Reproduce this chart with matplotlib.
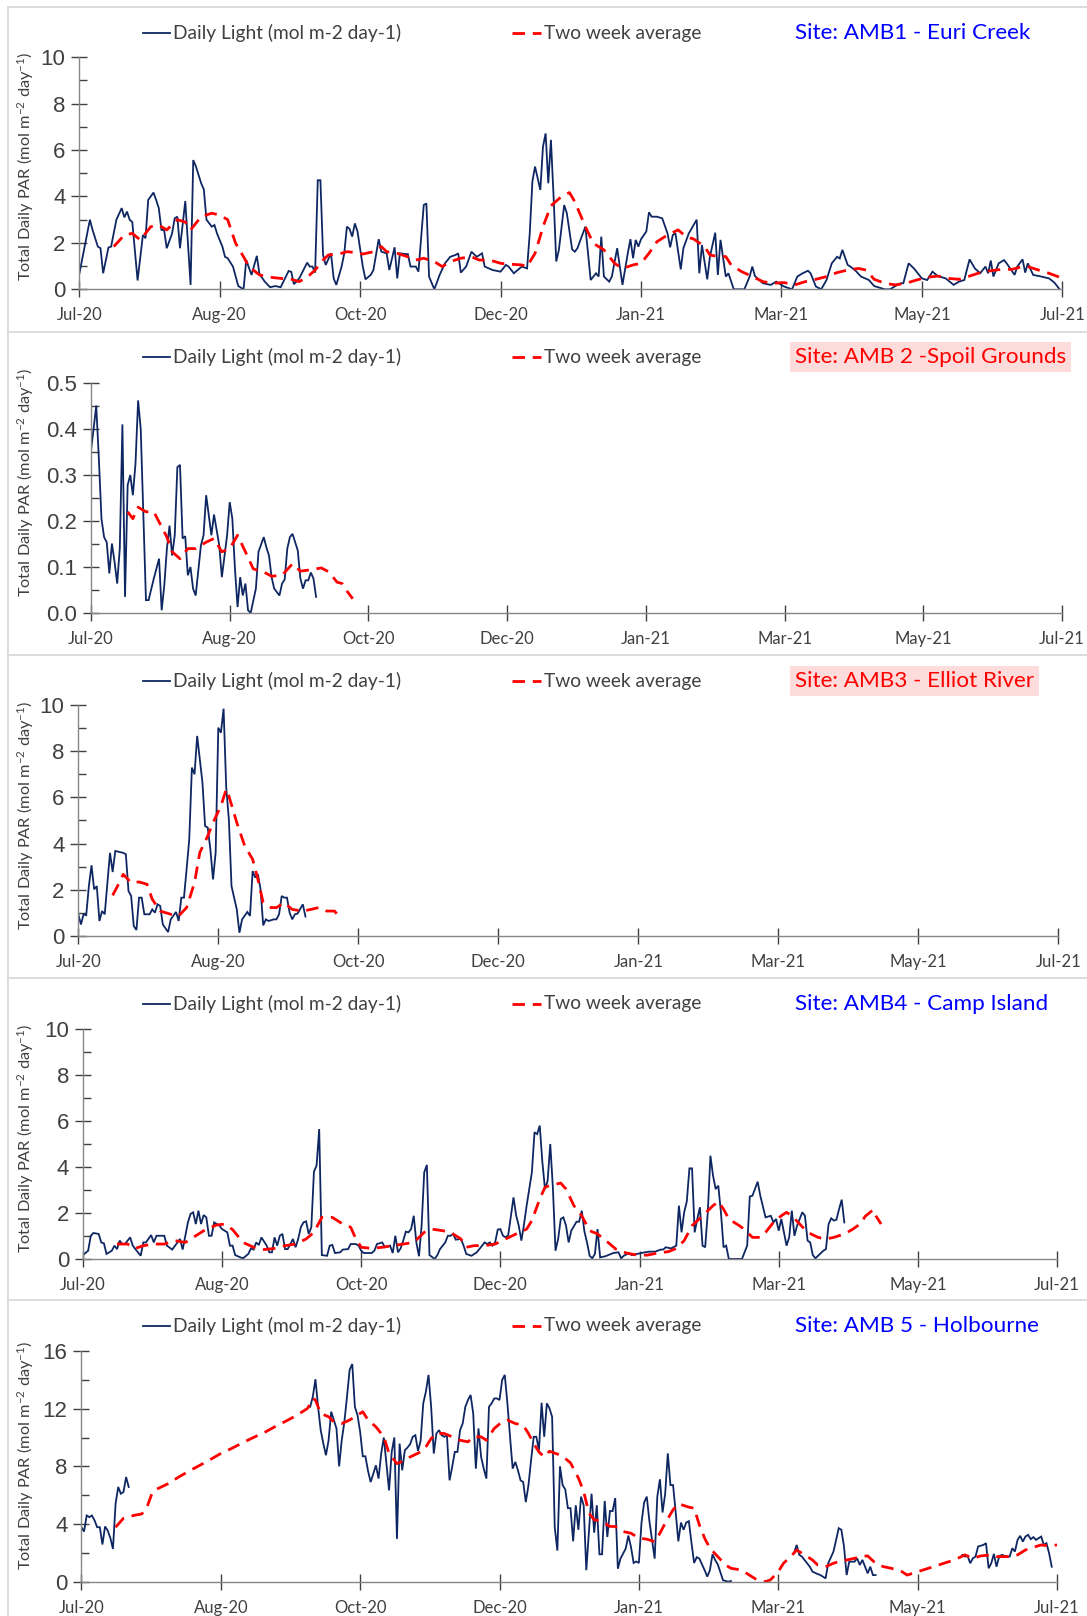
"""
Daily light (PAR) at the five AMB monitoring sites, Jul 2020 - Jul 2021.
"""
# general imports
import numpy as np
import matplotlib
matplotlib.use('Agg')
import matplotlib.pyplot as plt
import matplotlib.dates as mdates
from matplotlib.lines import Line2D
from matplotlib.ticker import MultipleLocator

nan = float('nan')

# All series are (day offset from 1 Jul 2020, value)
START = np.datetime64('2020-07-01')
TICK_STEP = 53  # days between the date labels on the x axis
N_TICKS = 8

# --- AMB1 - Euri Creek -------------------------------------------------------
amb1_light = [
    (0, 0.66), (4, 3.0), (5, 2.56), (7, 1.84), (8, 1.77), (9, 0.69), (11, 1.8),
    (12, 1.84), (14, 3.0), (16, 3.5), (17, 3.1), (18, 3.35), (19, 3.0), (20, 2.9),
    (22, 0.38), (24, 2.34), (25, 2.2), (26, 3.85), (28, 4.17), (29, 3.85), (30, 3.5),
    (31, 2.56), (32, 2.56), (33, 1.77), (35, 2.4), (36, 3.06), (37, 3.13), (38, 1.77),
    (40, 3.8), (42, 0.19), (43, 5.57), (44, 5.3), (46, 4.57), (47, 4.3), (48, 3.0),
    (50, 2.7), (51, 2.77), (52, 2.4), (54, 1.84), (55, 1.4), (56, 1.34), (58, 0.98),
    (60, 0.14), (62, 0.0), (63, 1.26), (65, 0.62), (67, 1.44), (68, 0.66), (70, 0.33),
    (72, 0.09), (74, 0.14), (76, 0.09), (79, 0.79), (80, 0.75), (81, 0.22), (83, 0.47),
    (86, 1.15), (87, 0.98), (88, 0.98), (89, 0.72), (90, 4.7), (91, 4.7), (92, 1.48),
    (93, 1.05), (95, 1.55), (96, 0.47), (97, 0.19), (99, 0.98), (100, 1.55), (101, 2.7),
    (102, 2.6), (103, 2.27), (104, 2.84), (105, 2.49), (107, 0.98), (108, 0.43),
    (110, 0.62), (111, 0.83), (113, 2.16), (114, 1.62), (116, 1.55), (117, 0.83),
    (119, 1.81), (120, 0.47), (121, 1.55), (123, 1.52), (124, 1.52), (125, 0.98),
    (127, 0.98), (128, 0.76), (130, 3.63), (131, 3.7), (132, 0.55), (134, 0.0),
    (136, 0.62), (138, 1.12), (140, 1.4), (142, 1.48), (143, 1.55), (144, 0.72),
    (146, 0.98), (148, 1.62), (150, 1.4), (152, 1.55), (153, 0.98), (156, 0.83),
    (159, 0.76), (161, 1.05), (162, 0.98), (164, 0.69), (167, 0.98), (169, 0.9),
    (170, 2.4), (171, 4.64), (172, 5.29), (174, 4.28), (175, 6.15), (176, 6.72),
    (177, 4.57), (178, 6.44), (179, 4.0), (180, 1.2), (181, 1.7), (183, 3.63),
    (184, 3.28), (186, 1.72), (187, 1.62), (188, 1.77), (191, 2.7), (193, 0.4),
    (195, 0.69), (196, 0.55), (197, 2.27), (198, 0.55), (200, 0.33), (201, 0.55),
    (203, 1.77), (205, 0.19), (207, 1.55), (208, 2.16), (209, 1.34), (210, 2.13),
    (211, 1.84), (212, 2.16), (214, 2.49), (215, 3.32), (216, 3.13), (218, 3.13),
    (220, 3.06), (222, 2.41), (223, 1.81), (224, 2.34), (225, 2.41), (227, 0.86),
    (228, 1.77), (230, 2.4), (233, 3.0), (234, 0.69), (235, 1.91), (237, 0.43),
    (238, 1.4), (240, 2.44), (241, 0.62), (242, 2.13), (244, 0.55), (245, 0.69),
    (247, 0.0), (251, 0.0), (253, 0.55), (254, 0.98), (255, 0.57), (258, 0.26),
    (261, 0.19), (263, 0.33), (266, 0.12), (269, 0.0), (271, 0.55), (273, 0.69),
    (275, 0.8), (276, 0.69), (278, 0.12), (280, 0.0), (282, 0.4), (284, 1.12),
    (286, 1.4), (287, 1.33), (288, 1.7), (290, 1.05), (291, 0.98), (293, 0.8),
    (295, 0.55), (298, 0.4), (300, 0.14), (304, 0.0), (306, 0.0), (308, 0.14),
    (310, 0.26), (311, 0.26), (313, 1.12), (315, 0.9), (318, 0.47), (320, 0.4),
    (322, 0.76), (324, 0.57), (327, 0.47), (330, 0.19), (332, 0.33), (334, 0.4),
    (336, 1.29), (338, 0.9), (340, 0.69), (342, 0.98), (343, 0.69), (344, 1.24),
    (345, 0.55), (347, 1.12), (349, 1.26), (350, 1.12), (353, 0.62), (354, 0.98),
    (356, 1.29), (357, 0.72), (358, 1.12), (360, 0.62), (363, 0.55), (366, 0.47),
    (368, 0.29), (370, 0.0),
]
amb1_avg = [
    (13, 1.84), (17, 2.34), (20, 2.41), (23, 2.13), (27, 2.7), (30, 2.77), (33, 2.56),
    (37, 3.0), (40, 2.9), (42, 2.56), (46, 3.13), (50, 3.28), (53, 3.2), (56, 3.0),
    (59, 1.98), (62, 1.4), (64, 0.98), (68, 0.62), (72, 0.52), (76, 0.47), (80, 0.43),
    (83, 0.33), (86, 0.52), (89, 0.83), (92, 1.26), (94, 1.48), (98, 1.52), (101, 1.62),
    (105, 1.58), (107, 1.52), (111, 1.62), (114, 1.84), (116, 1.62), (120, 1.55),
    (124, 1.4), (127, 1.26), (130, 1.34), (134, 1.19), (137, 0.98), (140, 1.19),
    (144, 1.34), (148, 1.4), (151, 1.26), (155, 1.26), (159, 1.12), (163, 1.08),
    (167, 1.05), (169, 0.98), (172, 1.55), (174, 2.3), (175, 2.7), (178, 3.6),
    (182, 4.0), (185, 4.17), (187, 3.78), (191, 2.7), (194, 1.98), (198, 1.7),
    (202, 1.12), (205, 0.9), (209, 1.05), (212, 1.12), (215, 1.55), (218, 2.05),
    (222, 2.34), (226, 2.56), (229, 2.27), (232, 2.16), (236, 1.84), (238, 1.48),
    (241, 1.41), (244, 1.41), (246, 1.05), (250, 0.76), (254, 0.55), (258, 0.33),
    (262, 0.26), (266, 0.29), (270, 0.19), (274, 0.33), (278, 0.43), (282, 0.55),
    (286, 0.72), (290, 0.83), (294, 0.9), (297, 0.83), (300, 0.43), (304, 0.26),
    (308, 0.19), (312, 0.26), (316, 0.4), (320, 0.52), (324, 0.57), (328, 0.47),
    (332, 0.43), (336, 0.57), (340, 0.72), (344, 0.8), (348, 0.86), (352, 0.86),
    (356, 0.98), (358, 0.98), (362, 0.83), (366, 0.69), (370, 0.52),
]

# --- AMB 2 - Spoil Grounds ---------------------------------------------------
amb2_light = [
    (0, 0.354), (1, 0.40), (2, 0.451), (3, 0.336), (4, 0.205), (5, 0.165), (6, 0.154),
    (7, 0.086), (8, 0.151), (9, 0.111), (10, 0.064), (11, 0.14), (12, 0.41), (13, 0.035),
    (14, 0.278), (15, 0.30), (16, 0.256), (17, 0.325), (18, 0.462), (19, 0.40),
    (21, 0.028), (22, 0.028), (24, 0.075), (26, 0.118), (27, 0.006), (28, 0.06),
    (29, 0.14), (30, 0.19), (31, 0.125), (32, 0.169), (33, 0.317), (34, 0.322),
    (35, 0.162), (36, 0.167), (37, 0.082), (38, 0.1), (39, 0.053), (40, 0.038),
    (42, 0.147), (43, 0.169), (44, 0.256), (46, 0.169), (47, 0.214), (49, 0.147),
    (50, 0.078), (52, 0.169), (53, 0.241), (54, 0.205), (55, 0.096), (56, 0.013),
    (57, 0.078), (58, 0.038), (59, 0.064), (60, 0.006), (61, 0.0), (63, 0.053),
    (64, 0.133), (66, 0.165), (67, 0.143), (68, 0.125), (69, 0.078), (70, 0.053),
    (72, 0.038), (73, 0.064), (74, 0.073), (75, 0.14), (76, 0.165), (77, 0.172),
    (79, 0.136), (80, 0.075), (81, 0.053), (82, 0.071), (83, 0.071), (84, 0.088),
    (85, 0.075), (86, 0.035),
]
amb2_avg = [
    (14, 0.22), (16, 0.205), (18, 0.23), (21, 0.22), (24, 0.22), (26, 0.198),
    (29, 0.165), (31, 0.133), (34, 0.118), (37, 0.14), (40, 0.14), (44, 0.154),
    (47, 0.162), (50, 0.133), (53, 0.14), (56, 0.169), (59, 0.133), (62, 0.096),
    (66, 0.089), (69, 0.08), (73, 0.082), (77, 0.107), (80, 0.091), (84, 0.094),
    (88, 0.098), (91, 0.089), (94, 0.067), (96, 0.064), (98, 0.046), (100, 0.031),
]

# --- AMB3 - Elliot River -----------------------------------------------------
amb3_light = [
    (0, 0.94), (1, 0.5), (2, 0.94), (3, 0.9), (4, 2.16), (5, 3.06), (6, 2.02), (7, 2.16),
    (8, 0.65), (9, 1.08), (10, 0.94), (12, 3.6), (13, 2.77), (14, 3.68), (17, 3.6),
    (18, 3.54), (19, 1.95), (20, 1.73), (21, 0.43), (22, 0.26), (23, 1.66), (24, 1.66),
    (25, 0.94), (27, 0.94), (28, 1.15), (29, 1.01), (30, 1.37), (31, 1.3), (32, 0.5),
    (34, 0.17), (35, 0.72), (37, 1.04), (38, 0.65), (39, 1.66), (40, 1.66), (41, 2.89),
    (42, 4.18), (43, 7.29), (44, 7.0), (45, 8.66), (46, 7.65), (47, 6.64), (48, 4.76),
    (49, 4.69), (50, 3.75), (51, 2.45), (52, 3.61), (53, 9.02), (54, 8.8), (55, 9.84),
    (56, 6.42), (57, 5.05), (58, 2.16), (60, 1.15), (61, 0.14), (62, 0.72), (64, 1.04),
    (65, 0.87), (66, 2.81), (67, 2.53), (68, 2.67), (69, 2.02), (70, 0.46), (71, 0.72),
    (72, 0.65), (74, 0.72), (75, 0.72), (76, 0.94), (77, 1.73), (78, 1.66), (79, 1.66),
    (80, 1.01), (81, 0.72), (82, 0.94), (83, 0.97), (85, 1.37), (86, 0.84),
]
amb3_avg = [
    (13, 1.76), (15, 2.19), (17, 2.67), (20, 2.31), (23, 2.34), (26, 2.24), (28, 1.59),
    (31, 1.08), (35, 0.94), (38, 0.87), (41, 1.23), (44, 2.31), (46, 3.61), (49, 4.33),
    (51, 4.91), (54, 5.63), (56, 6.35), (57, 6.06), (60, 4.91), (63, 3.9), (66, 3.32),
    (68, 2.45), (70, 1.44), (73, 1.23), (75, 1.23), (78, 1.44), (81, 1.15), (85, 1.08),
    (88, 1.15), (91, 1.23), (94, 1.08), (97, 1.08), (99, 0.79),
]

# --- AMB4 - Camp Island ------------------------------------------------------
amb4_light = [
    (0, 0.17), (2, 0.36), (3, 1.01), (4, 1.13), (6, 1.09), (7, 0.72), (8, 0.68),
    (9, 0.22), (11, 0.36), (12, 0.58), (13, 0.43), (14, 0.8), (15, 0.65), (16, 0.65),
    (18, 0.94), (19, 0.58), (20, 0.43), (22, 0.14), (23, 0.72), (24, 0.72), (26, 1.04),
    (27, 0.72), (28, 1.01), (31, 1.01), (32, 0.58), (34, 0.41), (36, 0.72), (37, 0.87),
    (38, 0.41), (39, 1.01), (40, 1.59), (41, 1.96), (42, 2.03), (43, 1.52), (44, 2.1),
    (45, 1.52), (46, 1.91), (47, 1.81), (48, 1.01), (49, 1.01), (50, 1.59), (52, 1.45),
    (53, 1.3), (55, 1.16), (56, 0.58), (57, 0.58), (58, 0.17), (60, 0.07), (61, 0.03),
    (63, 0.22), (64, 0.46), (65, 0.41), (66, 0.72), (67, 0.61), (68, 0.94), (70, 0.58),
    (71, 0.29), (72, 0.29), (73, 0.94), (74, 0.58), (75, 1.01), (76, 1.09), (77, 0.43),
    (78, 0.43), (80, 0.87), (81, 0.51), (82, 0.87), (83, 1.38), (84, 1.59), (85, 1.64),
    (86, 1.09), (87, 1.38), (88, 3.8), (89, 4.06), (90, 5.65), (91, 0.17), (93, 0.14),
    (94, 0.58), (95, 0.61), (96, 0.26), (98, 0.29), (99, 0.41), (101, 0.43), (102, 0.65),
    (104, 0.65), (105, 0.58), (106, 0.36), (107, 0.26), (110, 0.26), (111, 0.36),
    (112, 0.65), (114, 0.72), (115, 0.51), (117, 0.58), (118, 0.26), (119, 1.01),
    (120, 0.29), (121, 0.46), (122, 0.8), (123, 1.19), (124, 1.16), (125, 1.3),
    (126, 1.88), (127, 0.72), (128, 0.12), (129, 1.45), (130, 3.77), (131, 4.09),
    (132, 0.17), (134, 0.0), (135, 0.17), (136, 0.43), (138, 0.72), (139, 1.01),
    (140, 1.01), (141, 1.09), (142, 0.84), (144, 0.87), (145, 0.58), (146, 0.22),
    (148, 0.14), (150, 0.29), (151, 0.43), (153, 0.72), (154, 0.65), (155, 0.72),
    (156, 0.58), (157, 0.72), (158, 1.28), (159, 1.3), (160, 1.01), (161, 0.94),
    (162, 1.04), (164, 2.68), (165, 1.9), (166, 1.45), (167, 0.8), (168, 1.5),
    (169, 2.32), (171, 3.77), (172, 5.51), (173, 5.43), (174, 5.8), (175, 4.2),
    (176, 3.04), (177, 3.4), (178, 5.0), (179, 3.1), (180, 0.36), (181, 0.87),
    (182, 1.74), (183, 1.81), (184, 1.45), (185, 0.72), (186, 1.23), (188, 1.62),
    (189, 1.62), (190, 2.1), (191, 1.2), (192, 0.72), (193, 0.14), (194, 0.03),
    (195, 0.22), (196, 1.3), (197, 0.07), (199, 0.12), (202, 0.26), (204, 0.29),
    (205, 0.03), (206, 0.14), (208, 0.26), (209, 0.17), (211, 0.22), (214, 0.29),
    (216, 0.32), (218, 0.32), (220, 0.41), (221, 0.41), (222, 0.51), (224, 0.46),
    (226, 0.58), (227, 2.32), (228, 1.16), (229, 2.03), (230, 2.5), (231, 3.94),
    (232, 3.94), (233, 1.16), (234, 1.74), (235, 2.25), (236, 0.58), (237, 0.51),
    (238, 2.03), (239, 4.49), (240, 3.62), (241, 3.04), (242, 3.19), (243, 2.03),
    (244, 0.51), (245, 0.58), (246, 0.0), (251, 0.0), (253, 0.58), (254, 2.72),
    (255, 2.75), (257, 3.36), (258, 2.75), (260, 1.81), (262, 1.88), (263, 1.59),
    (264, 1.74), (265, 1.23), (266, 1.74), (268, 0.58), (269, 0.94), (270, 2.1),
    (271, 1.01), (272, 1.45), (273, 1.74), (274, 2.03), (275, 1.88), (276, 0.8),
    (277, 0.72), (278, 0.17), (279, 0.03), (280, 0.14), (282, 0.36), (283, 0.43),
    (284, 1.52), (285, 1.77), (286, 1.67), (287, 1.71), (288, 2.17), (289, 2.58),
    (290, 1.59),
]
amb4_avg = [
    (13, 0.65), (17, 0.65), (20, 0.46), (23, 0.58), (27, 0.65), (31, 0.65), (35, 0.8),
    (39, 0.72), (43, 1.01), (47, 1.3), (51, 1.48), (54, 1.52), (57, 1.28), (61, 0.72),
    (65, 0.51), (69, 0.41), (73, 0.46), (77, 0.58), (81, 0.65), (85, 0.87), (88, 1.16),
    (91, 1.81), (95, 1.81), (98, 1.59), (102, 1.38), (104, 0.87), (106, 0.51),
    (110, 0.46), (114, 0.51), (118, 0.58), (122, 0.65), (126, 0.72), (130, 1.16),
    (133, 1.3), (137, 1.23), (140, 1.16), (144, 0.87), (146, 0.51), (149, 0.58),
    (153, 0.58), (157, 0.65), (161, 0.87), (165, 1.09), (169, 1.3), (171, 1.67),
    (174, 2.61), (176, 3.12), (178, 3.2), (182, 3.3), (184, 3.04), (187, 2.32),
    (190, 1.88), (193, 1.23), (196, 1.09), (200, 0.72), (203, 0.43), (207, 0.26),
    (211, 0.17), (215, 0.17), (219, 0.26), (223, 0.32), (226, 0.46), (229, 0.8),
    (232, 1.45), (235, 1.77), (238, 2.1), (240, 2.32), (242, 2.49), (244, 2.17),
    (246, 1.74), (250, 1.45), (252, 1.28), (255, 0.94), (258, 0.94), (260, 1.16),
    (263, 1.59), (266, 1.88), (268, 2.03), (270, 1.88), (273, 1.52), (276, 1.16),
    (280, 0.94), (283, 0.87), (286, 0.94), (290, 1.09), (293, 1.28), (296, 1.52),
    (298, 1.86), (301, 2.14), (302, 1.88), (304, 1.52),
]

# --- AMB 5 - Holbourne (logger gaps are NaN) ---------------------------------
amb5_light = [
    (0, 3.78), (1, 3.48), (2, 4.59), (3, 4.48), (4, 4.59), (5, 4.25), (6, 3.78),
    (7, 3.78), (8, 2.58), (9, 3.83), (10, 3.55), (11, 3.04), (12, 2.27), (13, 5.41),
    (14, 6.57), (15, 6.1), (16, 6.22), (17, 7.26), (18, 6.57),
    (50, nan),
    (87, 12.13), (88, 12.83), (89, 14.04), (90, 12.13), (91, 10.51), (92, 9.58),
    (93, 8.77), (94, 9.81), (95, 11.79), (96, 11.21), (97, 10.63), (98, 8.0),
    (99, 9.81), (100, 11.09), (101, 12.83), (102, 14.69), (103, 15.1), (104, 12.13),
    (105, 11.55), (106, 10.39), (107, 8.7), (108, 8.7), (109, 7.68), (110, 6.91),
    (111, 7.49), (112, 8.07), (113, 7.15), (114, 8.89), (115, 10.0), (116, 8.19),
    (117, 6.33), (118, 9.0), (119, 10.0), (120, 2.97), (121, 9.58), (122, 7.73),
    (123, 9.12), (124, 9.3), (125, 9.54), (126, 10.05), (127, 10.16), (128, 9.07),
    (129, 9.77), (130, 12.37), (131, 13.18), (132, 14.34), (133, 12.13), (134, 8.89),
    (135, 10.28), (136, 10.51), (137, 10.16), (138, 10.05), (139, 10.16), (140, 7.03),
    (141, 7.96), (142, 9.0), (143, 9.0), (144, 10.51), (145, 10.97), (146, 12.13),
    (147, 12.6), (148, 12.95), (149, 11.67), (150, 7.84), (151, 10.63), (152, 8.65),
    (153, 7.84), (154, 7.15), (155, 12.13), (156, 12.37), (157, 12.71), (158, 12.71),
    (159, 12.6), (160, 13.99), (161, 14.34), (162, 12.37), (163, 10.05), (164, 7.84),
    (165, 8.31), (166, 7.73), (167, 7.03), (168, 6.91), (169, 5.52), (170, 6.68),
    (171, 8.42), (172, 10.05), (173, 10.05), (174, 9.12), (175, 12.41), (176, 10.05),
    (177, 12.37), (178, 12.02), (179, 11.44), (180, 3.78), (181, 2.16), (182, 8.0),
    (183, 6.7), (184, 6.4), (185, 5.1), (186, 5.1), (187, 2.8), (188, 5.3), (189, 3.6),
    (190, 5.9), (191, 5.3), (192, 0.8), (193, 3.4), (194, 6.1), (195, 3.4), (196, 5.3),
    (197, 1.9), (198, 1.9), (199, 5.6), (200, 3.1), (201, 4.9), (202, 4.9), (203, 5.8),
    (204, 0.9), (205, 1.6), (207, 2.3), (208, 3.2), (209, 2.4), (210, 1.3), (211, 1.4),
    (212, 1.3), (213, 4.1), (214, 5.5), (215, 5.9), (216, 4.2), (217, 2.9), (218, 1.6),
    (219, 5.9), (220, 7.1), (221, 4.8), (222, 6.1), (223, 8.9), (224, 6.7), (225, 6.7),
    (226, 4.8), (227, 2.8), (228, 4.1), (229, 3.6), (230, 4.1), (231, 4.2), (232, 2.7),
    (233, 1.3), (234, 1.7), (235, 1.6), (237, 0.8), (238, 0.35), (239, 0.8), (240, 1.9),
    (241, 1.5), (242, 1.2), (244, 0.1), (246, 0.0), (247, 0.05),
    (255, nan),
    (271, 2.0), (272, 2.55), (273, 1.86), (274, 1.74), (276, 1.28), (277, 1.04),
    (278, 0.7), (280, 0.53), (281, 0.46), (282, 0.35), (283, 0.23), (284, 1.28),
    (286, 2.09), (287, 2.9), (288, 3.71), (289, 3.6), (290, 2.44), (291, 0.46),
    (292, 1.39), (293, 1.39), (294, 1.39), (295, 1.62), (296, 1.16), (297, 1.51),
    (298, 1.04), (299, 0.58), (300, 1.04), (301, 0.46), (302, 0.46),
    (320, nan),
    (335, 1.86), (336, 1.74), (337, 1.79), (338, 1.28), (339, 1.62), (340, 1.74),
    (341, 2.44), (343, 2.55), (344, 2.67), (345, 0.93), (346, 1.28), (347, 1.93),
    (348, 1.04), (349, 1.74), (350, 1.86), (352, 1.74), (353, 1.74), (354, 2.32),
    (355, 2.09), (356, 2.9), (357, 3.18), (358, 2.78), (359, 3.13), (360, 3.25),
    (361, 2.95), (362, 3.09), (363, 2.9), (364, 3.02), (365, 3.13), (366, 2.55),
    (367, 2.67), (368, 1.97), (369, 1.04),
]
amb5_avg = [
    (13, 3.78), (16, 4.4), (20, 4.6), (23, 4.7), (25, 5.2), (27, 6.2), (29, 6.45),
    (33, 6.8), (37, 7.26), (41, 7.68), (45, 8.07), (49, 8.47), (53, 8.89), (57, 9.23),
    (62, 9.7), (66, 10.05), (70, 10.39), (74, 10.79), (78, 11.16), (82, 11.55),
    (86, 12.02), (88, 12.71), (89, 12.6), (91, 11.67), (94, 11.44), (96, 11.09),
    (99, 10.97), (102, 11.21), (105, 11.55), (107, 11.79), (109, 11.21), (112, 10.74),
    (115, 10.05), (117, 8.89), (120, 8.19), (123, 8.42), (125, 8.65), (129, 9.0),
    (131, 9.35), (133, 9.93), (135, 10.28), (138, 10.28), (141, 10.05), (144, 9.81),
    (147, 9.7), (149, 10.05), (152, 10.05), (154, 9.81), (157, 10.63), (160, 11.09),
    (162, 11.21), (165, 10.97), (168, 10.86), (170, 10.28), (172, 9.58), (174, 9.0),
    (176, 8.65), (178, 9.05), (181, 8.85), (183, 8.7), (186, 8.24), (189, 7.19),
    (191, 6.26), (193, 4.76), (195, 4.29), (198, 4.18), (201, 3.83), (203, 3.83),
    (206, 3.48), (209, 3.36), (212, 3.02), (215, 2.95), (218, 2.78), (220, 3.36),
    (222, 4.06), (225, 4.99), (227, 5.41), (231, 5.17), (233, 5.1), (235, 3.94),
    (237, 3.02), (239, 2.32), (242, 1.74), (245, 1.16), (247, 0.93), (251, 0.81),
    (254, 0.46), (257, 0.12), (260, 0.0), (262, 0.12), (265, 0.7), (267, 1.28),
    (270, 1.79), (272, 2.2), (275, 1.86), (278, 1.51), (280, 1.16), (283, 1.04),
    (286, 1.28), (288, 1.39), (291, 1.51), (294, 1.62), (296, 1.74), (299, 1.79),
    (302, 1.28), (305, 1.04), (308, 0.93), (312, 0.7), (314, 0.46), (317, 0.63),
    (320, 0.81), (324, 1.04), (328, 1.28), (332, 1.51), (336, 1.86), (339, 1.62),
    (342, 1.79), (346, 1.86), (348, 1.74), (352, 1.74), (356, 1.86), (359, 2.2),
    (363, 2.44), (365, 2.55), (368, 2.48), (371, 2.55),
]

site_names = ['Site: AMB1 - Euri Creek', 'Site: AMB 2 -Spoil Grounds',
              'Site: AMB3 - Elliot River', 'Site: AMB4 - Camp Island',
              'Site: AMB 5 - Holbourne']
site_light = [amb1_light, amb2_light, amb3_light, amb4_light, amb5_light]
site_avg = [amb1_avg, amb2_avg, amb3_avg, amb4_avg, amb5_avg]
y_max = [10, 0.5, 10, 10, 16]
y_step = [2, 0.1, 2, 2, 4]
y_fmt = ['{:.0f}', '{:.1f}', '{:.0f}', '{:.0f}', '{:.0f}']

# Styling
W, H = 1087, 1616
NAVY = '#0e2762'
RED = '#ff0000'
AXIS_GREY = '#868686'
TEXT_GREY = '#404040'
BORDER = '#d9d9d9'
SANS = ['Lato', 'DejaVu Sans']
NUM = ['Liberation Sans', 'DejaVu Sans']

plt.rcParams['font.family'] = SANS
plt.rcParams['mathtext.fontset'] = 'custom'
plt.rcParams['mathtext.rm'] = 'Lato'
plt.rcParams['mathtext.it'] = 'Lato:italic'

# Per panel layout, in pixels: axis left/right, y of zero and of the top value,
# panel top edge, legend row, site label colour / highlight, y-label centre
panels = [
    dict(left=79.3, right=1062.3, y0=289.3, ytop=57.3, top=7, legend=33.3,
         color='#0000ff', box=None, ylab=166.5),
    dict(left=91.0, right=1062.0, y0=613.0, ytop=383.0, top=332, legend=357.0,
         color=RED, box='#ffdcdc', ylab=482.5),
    dict(left=78.3, right=1058.3, y0=936.0, ytop=705.0, top=655, legend=681.0,
         color=RED, box='#ffdcdc', ylab=815.0),
    dict(left=82.9, right=1057.0, y0=1259.0, ytop=1029.0, top=978, legend=1004.0,
         color='#0000ff', box=None, ylab=1138.5),
    dict(left=81.4, right=1057.0, y0=1581.7, ytop=1351.0, top=1300, legend=1326.0,
         color='#0000ff', box=None, ylab=1455.5),
]


def fx(x):
    """Pixel column -> figure fraction."""
    return x / W


def fy(y):
    """Pixel row (from the top) -> figure fraction."""
    return 1 - y / H


def to_dates(series):
    """Splits (day, value) pairs into datetime64 dates and values."""
    days, vals = zip(*series)
    dates = START + np.array(days, dtype='timedelta64[D]')
    return dates, np.array(vals, dtype=float)


def draw_panel(fig, idx):
    """Draws one site panel: frame, axes, both series, legend and site label.

    :param fig: the figure to draw on
    :param idx: index of the site
    """
    p = panels[idx]
    # Light grey chart-area frame
    fig.add_artist(Line2D([fx(8), 1.0], [fy(p['top'])] * 2, color=BORDER, lw=1.3))

    ax = fig.add_axes([fx(p['left']), fy(p['y0']),
                       fx(p['right'] - p['left']), (p['y0'] - p['ytop']) / H])
    ax.patch.set_alpha(0)

    d, v = to_dates(site_light[idx])
    ax.plot(d, v, color=NAVY, lw=1.3, solid_joinstyle='miter')
    d, v = to_dates(site_avg[idx])
    ax.plot(d, v, color=RED, lw=2.0, linestyle=(0, (4.5, 2.8)))

    # Date axis: labels every 53 days from 1 Jul 2020
    ticks = START + np.arange(N_TICKS) * np.timedelta64(TICK_STEP, 'D')
    ax.set_xlim(ticks[0], ticks[-1])
    ax.set_xticks(ticks)
    ax.xaxis.set_major_formatter(mdates.DateFormatter('%b-%y'))

    ymax, step = y_max[idx], y_step[idx]
    ax.set_ylim(0, ymax)
    yt = np.arange(0, ymax + step / 2, step)
    ax.set_yticks(yt)
    ax.set_yticklabels([y_fmt[idx].format(t) for t in yt], family=NUM)
    ax.yaxis.set_minor_locator(MultipleLocator(step / 2))

    for side in ('top', 'right'):
        ax.spines[side].set_visible(False)
    for side in ('left', 'bottom'):
        ax.spines[side].set_color(AXIS_GREY)
        ax.spines[side].set_linewidth(1.0)

    ax.tick_params(axis='x', which='major', direction='inout', length=12, width=1.0,
                   color=TEXT_GREY, labelsize=12, labelcolor=TEXT_GREY, pad=7)
    ax.tick_params(axis='y', which='major', direction='inout', length=12, width=1.0,
                   color=TEXT_GREY, labelsize=16, labelcolor=TEXT_GREY, pad=4)
    ax.tick_params(axis='y', which='minor', direction='in', length=6, width=1.0,
                   color=TEXT_GREY)

    # y label
    fig.text(fx(26), fy(p['ylab']), 'Total Daily PAR (mol m$^{-2}$ day$^{-1}$)',
             rotation=90, ha='center', va='center', fontsize=11.8, color=TEXT_GREY)

    # Legend row
    ly = fy(p['legend'])
    fig.add_artist(Line2D([fx(143), fx(170)], [ly, ly], color=NAVY, lw=1.3))
    fig.text(fx(173), ly, 'Daily Light (mol m-2 day-1)', ha='left', va='center',
             fontsize=13.8, color=TEXT_GREY)
    fig.add_artist(Line2D([fx(512), fx(541)], [ly, ly], color=RED, lw=2.0,
                          linestyle=(0, (4.5, 2.8))))
    fig.text(fx(544), ly, 'Two week average', ha='left', va='center',
             fontsize=13.8, color=TEXT_GREY)

    box = None
    if p['box']:
        box = dict(boxstyle='square,pad=0.22', facecolor=p['box'], edgecolor='none')
    fig.text(fx(795), ly, site_names[idx], ha='left', va='center',
             fontsize=16.2, color=p['color'], bbox=box)


fig = plt.figure(figsize=(W / 100, H / 100), dpi=100)
fig.add_artist(Line2D([fx(8), fx(8)], [fy(7), 0.0], color=BORDER, lw=1.3))
for i in range(len(site_names)):
    draw_panel(fig, i)

fig.savefig('out.png', dpi=100)
